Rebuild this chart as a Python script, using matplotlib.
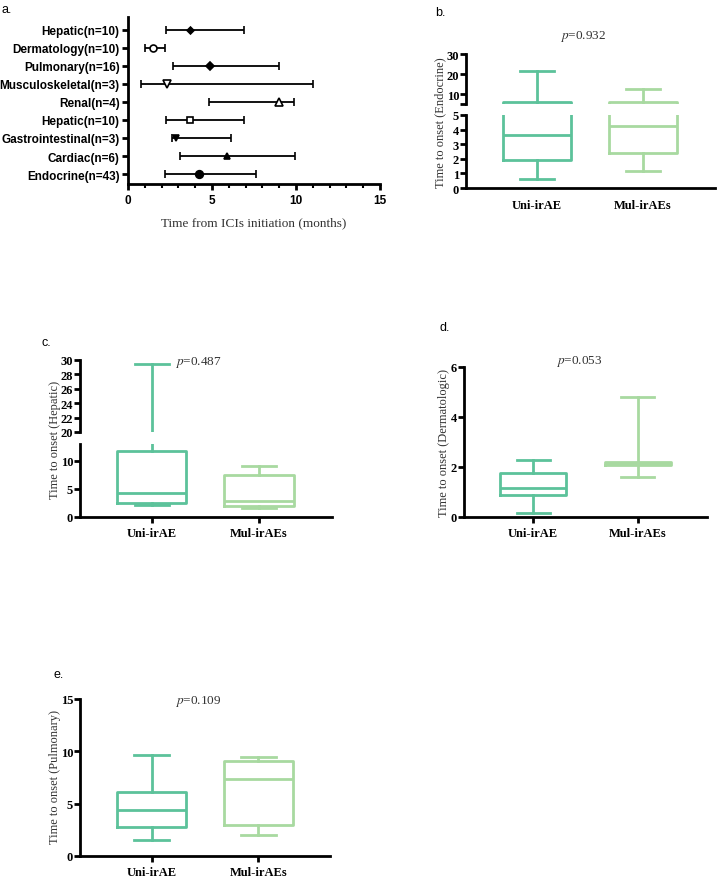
import matplotlib.pyplot as plt
import numpy as np

plt.rcParams['mathtext.fontset'] = 'stix'
plt.rcParams['font.family'] = ['Liberation Sans', 'DejaVu Sans']

W, H = 719, 879

# panel a: time from ICIs initiation (months), top row first
organs = ['Hepatic(n=10)', 'Dermatology(n=10)', 'Pulmonary(n=16)', 'Musculoskeletal(n=3)',
          'Renal(n=4)', 'Hepatic(n=10)', 'Gastrointestinal(n=3)', 'Cardiac(n=6)', 'Endocrine(n=43)']
mid_mo = [3.7, 1.5, 4.9, 2.3, 9.0, 3.7, 2.85, 5.9, 4.2]
low_mo = [2.26, 1.0, 2.66, 0.75, 4.85, 2.26, 2.6, 3.1, 2.2]
high_mo = [6.9, 2.2, 9.0, 11.0, 9.9, 6.9, 6.15, 9.95, 7.6]
mk = [('D', 'k', 3.5), ('o', 'w', 5), ('D', 'k', 4.5), ('v', 'w', 5.5), ('^', 'w', 5.5),
      ('s', 'w', 5), ('v', 'k', 5), ('^', 'k', 5), ('o', 'k', 5.5)]

# panels b-e: whisker low, Q1, median, Q3, whisker high
groups = ['Uni-irAE', 'Mul-irAEs']
endo_uni = [0.64, 1.93, 3.64, 6.1, 21.6]
endo_mul = [1.16, 2.41, 4.27, 6.1, 12.6]
hep_uni = [2.2, 2.5, 4.2, 11.8, 29.5]
hep_mul = [1.6, 2.0, 2.8, 7.4, 9.0]
derm_uni = [0.17, 0.9, 1.18, 1.76, 2.28]
derm_mul = [1.62, 2.09, 2.16, 2.22, 4.8]
pulm_uni = [1.5, 2.75, 4.44, 6.1, 9.68]
pulm_mul = [1.98, 3.0, 7.4, 9.1, 9.45]

c_uni = '#5cc29a'
c_mul = '#a8d9a0'


def rect(l, t, r, b):
    return [l / W, 1 - b / H, (r - l) / W, (b - t) / H]


def style_ax(ax, bottom=True):
    for s in ['top', 'right']:
        ax.spines[s].set_visible(False)
    ax.spines['left'].set_linewidth(2)
    ax.spines['bottom'].set_linewidth(2)
    if not bottom:
        ax.spines['bottom'].set_visible(False)
    ax.tick_params(width=2, length=4)
    ax.tick_params(axis='y', pad=1)
    for t in ax.get_yticklabels() + ax.get_xticklabels():
        t.set_fontfamily('Liberation Serif')
        t.set_fontweight('bold')
        t.set_fontsize(9)


def boxes(ax, a, b, width):
    stats = []
    for d in (a, b):
        stats.append(dict(whislo=d[0], q1=d[1], med=d[2], q3=d[3], whishi=d[4]))
    r = ax.bxp(stats, positions=[1, 2], widths=width, showfliers=False, capwidths=width / 2)
    for i, c in enumerate([c_uni, c_mul]):
        r['boxes'][i].set(color=c, linewidth=2)
        r['medians'][i].set(color=c, linewidth=2)
        for j in (2 * i, 2 * i + 1):
            r['whiskers'][j].set(color=c, linewidth=2)
            r['caps'][j].set(color=c, linewidth=2)


def ptext(x, y, s):
    fig.text(x / W, 1 - y / H, r'$\mathit{p}$=' + s, ha='center', va='center',
             fontsize=9.5, fontfamily='Liberation Serif', color='#333333')


def ylab(x, y, s):
    fig.text(x / W, 1 - y / H, s, rotation=90, ha='center', va='center',
             fontsize=9, fontfamily='Liberation Serif', color='#333333')


fig = plt.figure(figsize=(7.19, 8.79), dpi=100)

# ---- a ----
ax = fig.add_axes(rect(128, 18, 380, 185))
ypos = np.arange(len(organs))[::-1]
for i in range(len(organs)):
    ax.errorbar(mid_mo[i], ypos[i], xerr=[[mid_mo[i] - low_mo[i]], [high_mo[i] - mid_mo[i]]],
                fmt=mk[i][0], mfc=mk[i][1], mec='k', color='k', ms=mk[i][2], mew=1.2,
                elinewidth=1.3, capsize=3, capthick=1.3)
ax.set_xlim(0, 15)
ax.set_ylim(-0.55, 8.7)
ax.set_yticks(ypos)
ax.set_yticklabels(organs)
ax.set_xticks([0, 5, 10, 15])
ax.set_xticks(np.arange(1, 15), minor=True)
for s in ['top', 'right']:
    ax.spines[s].set_visible(False)
ax.spines['left'].set_linewidth(2)
ax.spines['bottom'].set_linewidth(2)
ax.tick_params(width=2, length=4)
ax.tick_params(which='minor', width=1.5, length=3)
ax.tick_params(axis='y', pad=2)
for t in ax.get_yticklabels() + ax.get_xticklabels():
    t.set_fontweight('bold')
    t.set_fontsize(8.5)
ax.set_xlabel('Time from ICIs initiation (months)', fontfamily='Liberation Serif',
              fontsize=9.5, color='#333333', labelpad=7)
fig.text(2 / W, 1 - 10 / H, 'a.', fontsize=9, va='center')

# ---- b (broken axis) ----
ax_t = fig.add_axes(rect(466, 55, 715, 105))
ax_b = fig.add_axes(rect(466, 116, 715, 189))
for a_ in (ax_t, ax_b):
    boxes(a_, endo_uni, endo_mul, 0.65)
    a_.set_xlim(0.33, 2.68)
ax_t.set_ylim(5, 30)
ax_t.set_yticks([5, 10, 20, 30])
ax_t.set_yticklabels(['', '10', '20', '30'])
ax_t.set_xticks([])
ax_b.set_ylim(0, 5)
ax_b.set_yticks([0, 1, 2, 3, 4, 5])
ax_b.set_xticks([1, 2])
ax_b.set_xticklabels(groups)
style_ax(ax_t, bottom=False)
style_ax(ax_b)
ax_b.tick_params(axis='x', length=0, pad=8)
fig.text(435 / W, 1 - 13 / H, 'b.', fontsize=9, va='center')
ptext(583, 37, '0.932')
ylab(440, 123, 'Time to onset (Endocrine)')

# ---- c (broken axis) ----
ax_t = fig.add_axes(rect(80, 361, 332, 433))
ax_b = fig.add_axes(rect(80, 445, 332, 518))
for a_ in (ax_t, ax_b):
    boxes(a_, hep_uni, hep_mul, 0.645)
    a_.set_xlim(0.33, 2.68)
ax_t.set_ylim(20, 30)
ax_t.set_yticks([20, 22, 24, 26, 28, 30])
ax_t.set_xticks([])
ax_b.set_ylim(0, 13)
ax_b.set_yticks([0, 5, 10])
ax_b.set_xticks([1, 2])
ax_b.set_xticklabels(groups)
style_ax(ax_t, bottom=False)
style_ax(ax_b)
fig.text(42 / W, 1 - 343 / H, 'c.', fontsize=9, va='center')
ptext(198, 363, '0.487')
ylab(55, 440, 'Time to onset (Hepatic)')

# ---- d ----
ax = fig.add_axes(rect(464, 368, 707, 518))
boxes(ax, derm_uni, derm_mul, 0.63)
ax.set_xlim(0.34, 2.66)
ax.set_ylim(0, 6)
ax.set_yticks([0, 2, 4, 6])
ax.set_xticks([1, 2])
ax.set_xticklabels(groups)
style_ax(ax)
fig.text(440 / W, 1 - 328 / H, 'd.', fontsize=9, va='center')
ptext(579, 362, '0.053')
ylab(444, 443, 'Time to onset (Dermatologic)')

# ---- e ----
ax = fig.add_axes(rect(80, 700, 330, 857))
boxes(ax, pulm_uni, pulm_mul, 0.64)
ax.set_xlim(0.33, 2.67)
ax.set_ylim(0, 15)
ax.set_yticks([0, 5, 10, 15])
ax.set_xticks([1, 2])
ax.set_xticklabels(groups)
style_ax(ax)
fig.text(53 / W, 1 - 675 / H, 'e.', fontsize=9, va='center')
ptext(198, 702, '0.109')
ylab(55, 777, 'Time to onset (Pulmonary)')

fig.savefig('out.png', dpi=100)
